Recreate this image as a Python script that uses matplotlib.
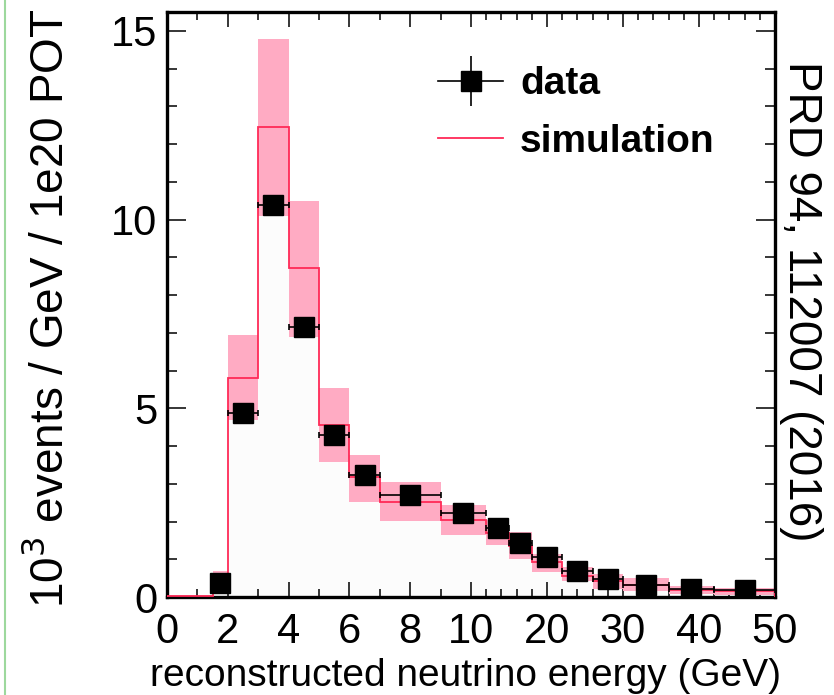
"""
reconstructed neutrino energy spectrum: data vs simulation (PRD 94, 112007)
"""

#%% import modules

import numpy as np
import matplotlib as mpl
mpl.use('Agg')
import matplotlib.pyplot as plt
from matplotlib.lines import Line2D
from matplotlib.ticker import FixedLocator

#%% global plot settings

plt.rc('font', **{'family': 'sans-serif', 'sans-serif': ['Liberation Sans'], 'size': 30})
mpl.rcParams['xtick.direction'] = 'in'
mpl.rcParams['ytick.direction'] = 'in'
mpl.rcParams['xtick.top'] = True
mpl.rcParams['ytick.right'] = True

#%% data

# bin edges in GeV (variable width, axis squeezed above 10 GeV)
bin_edges = [0, 1.5, 2, 3, 4, 5, 6, 7, 9, 12, 15, 18, 22, 26, 30, 36, 42, 50]

# simulation (10^3 events / GeV / 1e20 POT) and its systematic band
sim = [0.02, 0.40, 5.80, 12.45, 8.72, 4.55, 3.19, 2.53, 2.04, 1.70, 1.35,
       0.93, 0.55, 0.42, 0.33, 0.18, 0.15]
sim_lo = [0.0, 0.15, 4.68, 10.10, 6.88, 3.57, 2.51, 2.02, 1.64, 1.37, 1.02,
          0.66, 0.42, 0.20, 0.15, 0.08, 0.05]
sim_hi = [0.0, 0.70, 6.94, 14.78, 10.50, 5.54, 3.76, 3.04, 2.44, 2.05, 1.72,
          1.15, 0.80, 0.60, 0.50, 0.28, 0.24]

# data points (one per bin, starting at the 1.5-2 GeV bin)
data_x = [1.75, 2.5, 3.5, 4.5, 5.5, 6.5, 8, 9.75, 13.5, 16.5, 20, 24, 28, 33, 39, 46]
data_y = [0.37, 4.87, 10.38, 7.15, 4.30, 3.22, 2.70, 2.23, 1.82, 1.44, 1.06,
          0.70, 0.48, 0.31, 0.20, 0.18]
data_err = [0.05, 0.08, 0.12, 0.10, 0.07, 0.06, 0.04, 0.03, 0.03, 0.03, 0.02,
            0.02, 0.02, 0.01, 0.01, 0.01]

xticks = [0, 2, 4, 6, 8, 10, 20, 30, 40, 50]
xticks_minor = list(range(1, 10, 2)) + list(range(12, 50, 2))

#%% axis transform: linear below 10 GeV, 4x compressed above

def fwd(e):
    e = np.asarray(e, dtype=float)
    return np.where(e <= 10, e, 10 + (e - 10) / 4.)

def inv(u):
    u = np.asarray(u, dtype=float)
    return np.where(u <= 10, u, 10 + (u - 10) * 4.)

#%% plot

red = '#ff2a57'
pink = '#ffabc3'

fig = plt.figure(figsize=(8.34, 6.95), dpi=100)
ax = fig.add_axes([0.2002, 0.141, 0.729, 0.8417])
ax.set_xscale('function', functions=(fwd, inv))

edges = np.array(bin_edges)
ax.stairs(sim, edges, fill=True, color='#fcfcfc', zorder=1)
ax.stairs(sim_hi, edges, baseline=sim_lo, fill=True, color=pink, lw=0, zorder=2)
ax.stairs(sim, edges, baseline=0, color=red, lw=1.3, zorder=3)

xerr_lo = np.array(data_x) - edges[1:-1]
xerr_hi = edges[2:] - np.array(data_x)
ax.errorbar(data_x, data_y, xerr=[xerr_lo, xerr_hi], yerr=data_err,
            fmt='s', ms=14, color='k', mec='k', elinewidth=1.2,
            capsize=2.5, capthick=1.2, zorder=4)

# legend handles (error cross without caps, like the original)
data_bar = Line2D([], [], color='k', lw=1.2, marker='|', ms=36, mew=1.2)
data_sq = Line2D([], [], color='k', ls='none', marker='s', ms=14)
sim_line = Line2D([], [], color=red, lw=1.3)

#------------------------------------------------------------------------------
# axes

ax.set_xlim(0, 50)
ax.set_ylim(0, 15.5)
ax.xaxis.set_major_locator(FixedLocator(xticks))
ax.xaxis.set_minor_locator(FixedLocator(xticks_minor))
ax.set_xticklabels([str(t) for t in xticks])
ax.set_yticks([0, 5, 10, 15])
ax.yaxis.set_minor_locator(FixedLocator(np.arange(0, 16, 1)))

ax.tick_params(axis='x', which='major', length=11, width=1.1, pad=11)
ax.tick_params(axis='x', which='minor', length=5.5, width=1.1, top=True)
ax.tick_params(axis='y', which='major', length=14, width=1.1, pad=7)
ax.tick_params(axis='y', which='minor', length=7, width=1.1, right=True)
for s in ax.spines.values():
    s.set_linewidth(2.4)

ax.legend([(data_bar, data_sq), sim_line], ['data', 'simulation'],
          loc='upper left', bbox_to_anchor=(0.446, 0.907), frameon=False,
          prop={'weight': 'bold', 'size': 28}, handlelength=1.67,
          handletextpad=0.44, labelspacing=0.55, borderpad=0, borderaxespad=0)

# labels
fig.text(0.06, 0.556, '10$^3$ events / GeV / 1e20 POT', rotation=90,
         ha='center', va='center', size=33)
fig.text(0.5576, 0.028, 'reconstructed neutrino energy (GeV)',
         ha='center', va='center', size=28)
fig.text(0.96, 0.567, 'PRD 94, 112007 (2016)', rotation=-90,
         ha='center', va='center', size=33)

# thin green edge line from the original crop
fig.add_artist(Line2D([0.006, 0.006], [0, 1], color='#9dd89d', lw=1.5))

fig.savefig('out.png', dpi=100)
